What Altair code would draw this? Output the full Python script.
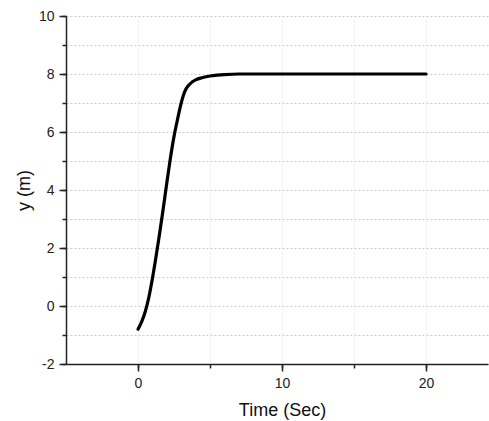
import altair as alt
import pandas as pd

# Values
time_sec = [0, 0.25, 0.5, 0.75, 1.0, 1.25, 1.5, 1.75, 2.0, 2.25, 2.5, 2.75,
            3.0, 3.25, 3.5, 3.75, 4.0, 4.5, 5.0, 5.5, 6.0, 7.0, 8.0, 10.0,
            12.0, 14.0, 16.0, 18.0, 20.0]
y_m = [-0.8, -0.55, -0.2, 0.3, 0.95, 1.7, 2.5, 3.35, 4.25, 5.1, 5.85, 6.45,
       7.0, 7.4, 7.6, 7.72, 7.8, 7.88, 7.93, 7.96, 7.98, 8.0, 8.0, 8.0,
       8.0, 8.0, 8.0, 8.0, 8.0]

x_grid_values = [0, 5, 10, 15, 20]
x_major_values = [0, 10, 20]
y_grid_values = [-2, -1, 0, 1, 2, 3, 4, 5, 6, 7, 8, 9, 10]
y_major_values = [-2, 0, 2, 4, 6, 8, 10]

df = pd.DataFrame({"t": time_sec, "y": y_m})

FONT = "Liberation Sans"
xs = alt.Scale(domain=[-5, 24.3], nice=False, zero=False)
ys = alt.Scale(domain=[-2, 10], nice=False, zero=False)

base = alt.Chart(df)

minor = base.mark_line(opacity=0).encode(
    x=alt.X("t:Q", scale=xs, axis=alt.Axis(
        orient="bottom", values=x_grid_values, labels=False, domain=False,
        title=None, grid=True, gridColor="#ebebeb", gridDash=[2, 2],
        gridWidth=1, tickSize=4, tickWidth=1.5, tickColor="#222222")),
    y=alt.Y("y:Q", scale=ys, axis=alt.Axis(
        orient="left", values=y_grid_values, labels=False, domain=False,
        title=None, grid=True, gridColor="#cccccc", gridDash=[2, 2],
        gridWidth=1, tickSize=4, tickWidth=1.5, tickColor="#222222")),
)

major = base.mark_line(color="black", strokeWidth=3.2, strokeCap="round",
                       interpolate="monotone").encode(
    x=alt.X("t:Q", scale=xs, axis=alt.Axis(
        orient="bottom", values=x_major_values, grid=False, title="Time (Sec)",
        tickSize=7, tickWidth=1.5, tickColor="#222222", domainColor="#222222",
        domainWidth=1.5, labelPadding=5, titleX=216, titleY=37,
        labelExpr="'' + datum.value")),
    y=alt.Y("y:Q", scale=ys, axis=alt.Axis(
        orient="left", values=y_major_values, grid=False, title="y (m)",
        tickSize=7, tickWidth=1.5, tickColor="#222222", domainColor="#222222",
        domainWidth=1.5, labelPadding=5, titleX=-33, titleY=174,
        labelExpr="'' + datum.value")),
)

chart = (
    alt.layer(minor, major)
    .resolve_axis(x="independent", y="independent")
    .properties(
        width=422, height=348,
        padding={"left": 66, "top": 16, "right": 1, "bottom": 57},
        autosize=alt.AutoSizeParams(type="none"),
        background="white",
    )
    .configure_view(stroke=None)
    .configure_axis(
        labelFont=FONT, titleFont=FONT, labelFontSize=14, titleFontSize=18,
        labelColor="#222222", titleColor="#111111", titleFontWeight="normal",
    )
)

chart.save("out.html", embed_options={"renderer": "svg", "actions": False})
